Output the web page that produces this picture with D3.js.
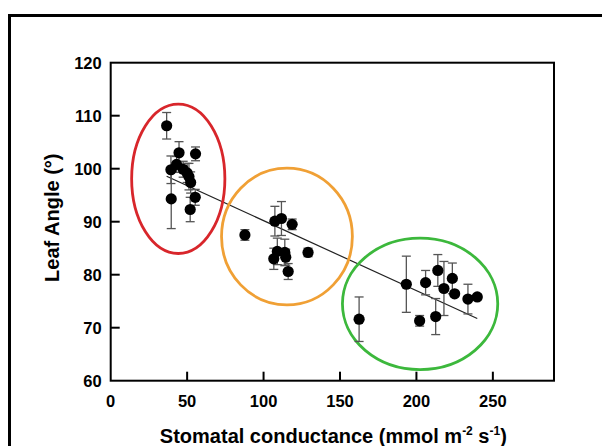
<!DOCTYPE html>
<html>
<head>
<meta charset="utf-8">
<script src="https://cdn.jsdelivr.net/npm/d3@7"></script>
<style>
  body { margin: 0; background: #fff; }
  text { font-family: "Liberation Sans", Arial, sans-serif; font-weight: bold; }
</style>
</head>
<body>
<div id="plot"></div>
<script>
// Data: [conductance, leaf angle, error]
const redGroup = [
  [36.6, 108.1, 2.5], [44.7, 103.0, 2.1], [55.5, 102.8, 1.3], [39.4, 99.8, 2.6],
  [43.1, 100.8, 1.5], [47.4, 99.9, 1.5], [51.2, 98.5, 2.5], [52.3, 97.4, 2.0],
  [39.6, 94.3, 5.6], [55.3, 94.6, 1.5], [52.0, 92.3, 2.3], [50.0, 99.2, 1.8]
];
const orangeGroup = [
  [87.8, 87.5, 1.0], [107.4, 90.1, 2.8], [111.7, 90.6, 3.2], [118.7, 89.5, 1.0],
  [109.0, 84.4, 2.5], [106.7, 83.0, 2.0], [113.9, 84.2, 2.5], [114.5, 83.3, 1.5],
  [116.1, 80.6, 1.5], [129.1, 84.2, 0.8]
];
const greenGroup = [
  [162.5, 71.6, 4.2], [193.4, 78.2, 5.3], [202.1, 71.3, 1.0], [206.0, 78.5, 2.3],
  [212.6, 72.1, 3.4], [214.0, 80.8, 3.0], [218.0, 77.4, 5.1], [223.5, 79.3, 2.9],
  [225.0, 76.4, 0.5], [233.7, 75.4, 2.8], [239.8, 75.8, 0.5]
];

// Linear fit as drawn in the figure
const fitSlope = -0.132;
const fitIntercept = 103.4;

// Group ellipses in data units: [cx, cy, rx, ry]
const ellipses = [
  { color: "#d8262b", e: [44.2, 98.1, 30.5, 14.1] },
  { color: "#f0a035", e: [115.3, 87.2, 42.8, 12.9] },
  { color: "#3cb83c", e: [202.4, 74.5, 50.8, 12.4] }
];

const xTicks = [50, 100, 150, 200, 250];
const xLabels = [0, 50, 100, 150, 200, 250];
const yTicks = [70, 80, 90, 100, 110];
const yLabels = [60, 70, 80, 90, 100, 110, 120];

const W = 602, H = 446;
const margin = { left: 110.7, right: 554, top: 62.7, bottom: 380.7 };

const svg = d3.select("#plot").append("svg")
  .attr("width", W).attr("height", H);

// outer frame (runs off the right and bottom of the picture)
svg.append("path")
  .attr("d", `M9.5,${H + 5} V15.5 H${W + 5}`)
  .attr("fill", "none").attr("stroke", "#000").attr("stroke-width", 3);

const x = d3.scaleLinear().domain([0, 290]).range([margin.left, margin.right]);
const y = d3.scaleLinear().domain([60, 120]).range([margin.bottom, margin.top]);

// plot box
svg.append("rect")
  .attr("x", margin.left).attr("y", margin.top)
  .attr("width", margin.right - margin.left).attr("height", margin.bottom - margin.top)
  .attr("fill", "none").attr("stroke", "#000").attr("stroke-width", 2);

// inward ticks
svg.append("g").selectAll("line").data(xTicks).join("line")
  .attr("x1", d => x(d)).attr("x2", d => x(d))
  .attr("y1", margin.bottom).attr("y2", margin.bottom - 9)
  .attr("stroke", "#000").attr("stroke-width", 2);
svg.append("g").selectAll("line").data(yTicks).join("line")
  .attr("x1", margin.left).attr("x2", margin.left + 9)
  .attr("y1", d => y(d)).attr("y2", d => y(d))
  .attr("stroke", "#000").attr("stroke-width", 2);

// tick labels
svg.append("g").selectAll("text").data(xLabels).join("text")
  .attr("x", d => x(d)).attr("y", margin.bottom + 26)
  .attr("text-anchor", "middle").style("font-size", "16.5px")
  .text(d => d);
svg.append("g").selectAll("text").data(yLabels).join("text")
  .attr("x", margin.left - 9).attr("y", d => y(d) + 6)
  .attr("text-anchor", "end").style("font-size", "16.5px")
  .text(d => d);

// axis titles
const xt = svg.append("text")
  .attr("x", (margin.left + margin.right) / 2 + 1).attr("y", 443)
  .attr("text-anchor", "middle").style("font-size", "20px");
xt.append("tspan").text("Stomatal conductance (mmol m");
xt.append("tspan").attr("dy", -8).style("font-size", "12px").text("-2");
xt.append("tspan").attr("dy", 8).text(" s");
xt.append("tspan").attr("dy", -8).style("font-size", "12px").text("-1");
xt.append("tspan").attr("dy", 8).text(")");

svg.append("text")
  .attr("transform", `translate(59,${(margin.top + margin.bottom) / 2 - 4}) rotate(-90)`)
  .attr("text-anchor", "middle").style("font-size", "20px")
  .text("Leaf Angle (°)");

// regression line across the data range
const all = [...redGroup, ...orangeGroup, ...greenGroup];
const [xMin, xMax] = d3.extent(all, d => d[0]);
svg.append("line")
  .attr("x1", x(xMin)).attr("y1", y(fitIntercept + fitSlope * xMin))
  .attr("x2", x(xMax)).attr("y2", y(fitIntercept + fitSlope * xMax))
  .attr("stroke", "#222").attr("stroke-width", 1.2);

// ellipses
svg.append("g").selectAll("ellipse").data(ellipses).join("ellipse")
  .attr("cx", d => x(d.e[0])).attr("cy", d => y(d.e[1]))
  .attr("rx", d => x(d.e[0] + d.e[2]) - x(d.e[0]))
  .attr("ry", d => y(d.e[1]) - y(d.e[1] + d.e[3]))
  .attr("fill", "none").attr("stroke", d => d.color).attr("stroke-width", 2.8);

// error bars
const eb = svg.append("g").attr("stroke", "#555").attr("stroke-width", 1.3);
const cap = 4.5;
all.forEach(d => {
  const cx = x(d[0]), y1 = y(d[1] + d[2]), y2 = y(d[1] - d[2]);
  eb.append("line").attr("x1", cx).attr("x2", cx).attr("y1", y1).attr("y2", y2);
  eb.append("line").attr("x1", cx - cap).attr("x2", cx + cap).attr("y1", y1).attr("y2", y1);
  eb.append("line").attr("x1", cx - cap).attr("x2", cx + cap).attr("y1", y2).attr("y2", y2);
});

// points
svg.append("g").selectAll("circle").data(all).join("circle")
  .attr("cx", d => x(d[0])).attr("cy", d => y(d[1]))
  .attr("r", 5.6).attr("fill", "#000");
</script>
</body>
</html>
